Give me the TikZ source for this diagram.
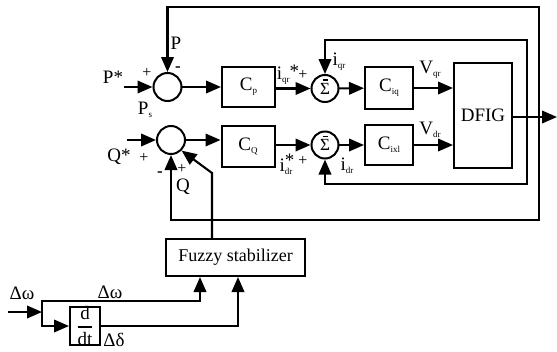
\documentclass[tikz,border=0pt]{standalone}
\usepackage{fontspec}
\setmainfont{Liberation Serif}
\usepackage{amsmath}
\usetikzlibrary{arrows.meta}
\newcommand\sbs[1]{\raisebox{-3pt}{\fontsize{9}{9}\selectfont #1}}
\begin{document}
\begin{tikzpicture}[x=1pt,y=-1pt,
  every node/.style={font=\fontsize{19}{19}\selectfont, inner sep=0pt},
  blk/.style={draw, line width=2pt, inner sep=0pt},
  sumc/.style={draw, circle, line width=2pt, minimum size=28pt, inner sep=0pt},
  ln/.style={line width=2.1pt, line cap=rect},
  arr/.style={ln, -{Triangle[length=15pt,width=12.5pt]}},
  sgn/.style={font=\fontsize{16}{16}\selectfont},
  mns/.style={font=\fontsize{17}{17}\selectfont\bfseries},
  sbar/.style={line width=1.5pt},
]
\useasboundingbox (0,0) rectangle (557,351);

% blocks
\node[sumc] (s1) at (167.5,87) {};
\node[sumc] (s2) at (171,140) {};
\node[sumc, minimum size=27pt] (s3) at (325,88.5) {\fontsize{17}{17}\selectfont\raisebox{-1.5pt}{Σ}};
\node[sumc, minimum size=27pt] (s4) at (325,145) {\fontsize{17}{17}\selectfont\raisebox{-1.5pt}{Σ}};
\node[blk, minimum width=53pt, minimum height=40pt] (cp) at (248.5,87) {C\sbs{p}};
\node[blk, minimum width=53pt, minimum height=41pt] (cq) at (248,146) {C\sbs{Q}};
\node[blk, minimum width=48pt, minimum height=42pt] (ciq) at (389,88) {C\sbs{iq}};
\node[blk, minimum width=48pt, minimum height=40pt] (cid) at (389,145) {C\sbs{ixl}};
\node[blk, minimum width=58pt, minimum height=105pt] (dfig) at (483,115.5) {DFIG};
\node[blk, minimum width=139pt, minimum height=37pt, font=\fontsize{18}{18}\selectfont] (fz) at (235.5,257.5) {Fuzzy stabilizer};
\node[blk, minimum width=30pt, minimum height=36pt] (dt) at (85,326) {$\genfrac{}{}{1.4pt}{0}{\text{d}}{\text{dt}}$};

% bars in the summing circles
\draw[sbar] ([xshift=-2.5pt,yshift=8.5pt]s3.center) -- ++(5pt,0pt);
\draw[sbar] ([xshift=-2.5pt,yshift=8.5pt]s4.center) -- ++(5pt,0pt);

% coordinates
\coordinate (pin) at (125,87);
\coordinate (qin) at (128,140);
\coordinate (o1) at (171,220);
\coordinate (o2) at (539,220);
\coordinate (o3) at (539,7);
\coordinate (o4) at (167.5,7);
\coordinate (i1) at (325,184);
\coordinate (i2) at (527,184);
\coordinate (i3) at (527,40);
\coordinate (i4) at (325,40);
\coordinate (out) at (557,117);
\coordinate (f1) at (212,173);
\coordinate (w0) at (9,312);
\coordinate (w1) at (42,312);
\coordinate (w2) at (42,301);
\coordinate (w3) at (42,326);
\coordinate (w4) at (200,301);
\coordinate (w5) at (238,326);

% connectors
\draw[arr] (pin) -- (s1);
\draw[arr] (s1) -- (cp);
\draw[arr] (cp.east |- s3) -- (s3);
\draw[arr] (s3) -- (ciq);
\draw[arr] (ciq.east) -- (ciq.east -| dfig.west);
\draw[arr] (qin) -- (s2);
\draw[arr] (s2.east) -- (s2.east -| cq.west);
\draw[arr] (cq.east |- s4) -- (s4.west);
\draw[arr] (s4) -- (cid);
\draw[arr] (cid.east) -- (cid.east -| dfig.west);
\draw[arr] (dfig.east |- out) -- (out);
\draw[arr] (o3) -- (o4) -- (s1);
\draw[arr] (o3) -- (o2) -- (o1) -- (s2);
\draw[arr] (i3) -- (i4) -- (s3);
\draw[arr] (i3) -- (i2) -- (i1) -- (s4);
\draw[arr] (fz.north -| f1) -- (f1) -- (s2.-45);
\draw[arr] (w0) -- (w1);
\draw[arr] (w3) -- (w2) -- (w4) -- (fz.south -| w4);
\draw[arr] (w3) -- (dt.west);
\draw[arr] (dt.east) -- (w5) -- (fz.south -| w5);

% labels
\node (lPst) at (113,77) {P*};
\node[sgn] (pl1) at (147,73) {+};
\node[mns] (mn1) at (178,69) {-};
\node (lP) at (176,43) {P};
\node (lPs) at (145,110) {P\sbs{s}};
\node (lQst) at (119,157) {Q*};
\node[sgn] (pl2) at (144,158) {+};
\node[mns] (mn2) at (160,174) {-};
\node[sgn] (pl3) at (182,169) {+};
\node (lQ) at (183,187) {Q};
\node (liqs) at (288,75) {i\sbs{qr}\raisebox{2pt}{*}};
\node[sgn] (pl4) at (303,75) {+};
\node (lids) at (286,164) {i\makebox[0pt][l]{\raisebox{5pt}{*}}\sbs{dr}};
\node[sgn] (pl5) at (303,161) {+};
\node (liq) at (339,62) {i\sbs{qr}};
\node (lid) at (347,166) {i\sbs{dr}};
\node (lvq) at (430,70) {V\sbs{qr}};
\node (lvd) at (430,130) {V\sbs{dr}};
\node (ldw1) at (22,293) {Δω};
\node (ldw2) at (110,292) {Δω};
\node (ldd) at (114,340) {Δδ};
\end{tikzpicture}
\end{document}
